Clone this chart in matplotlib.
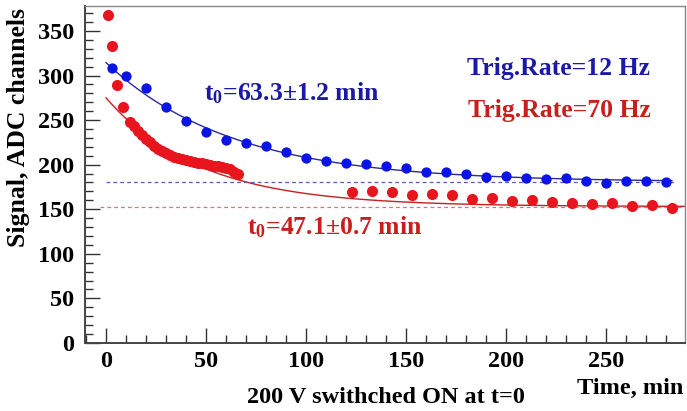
import numpy as np
import matplotlib.pyplot as plt
from matplotlib.ticker import MultipleLocator

plt.rcParams['font.family'] = ['Liberation Serif', 'DejaVu Serif']
plt.rcParams['font.weight'] = 'bold'
plt.rcParams['mathtext.fontset'] = 'custom'
plt.rcParams['mathtext.rm'] = 'Liberation Serif:bold'
plt.rcParams['mathtext.default'] = 'rm'

# Trig.Rate=12 Hz
t_blue = [3, 10, 20, 30, 40, 50, 60, 70, 80, 90, 100, 110, 120, 130, 140,
          150, 160, 170, 180, 190, 200, 210, 220, 230, 240, 250, 260, 270, 280]
s_blue = [308.6, 299.5, 286, 264.6, 249.2, 236.4, 227.7, 224.4, 221, 214, 208,
          204.4, 201.5, 201, 198.8, 195.8, 191.3, 191.3, 189.4, 186, 187.5,
          185.2, 183.8, 184.6, 181.5, 178.9, 181.5, 181.9, 180]

# Trig.Rate=70 Hz
t_red = [1, 3, 5.7, 8.5, 12, 14, 16, 18, 20, 22, 24, 26, 28, 30, 32, 34, 36,
         38, 40, 42, 44, 46, 48, 50, 52, 54, 56, 58, 60, 62, 64, 66,
         123, 133, 143, 153, 163, 173, 183, 193, 203, 213, 223, 233, 243,
         253, 263, 273, 283]
s_red = [368, 333, 289, 265, 248, 243, 238, 233, 229, 225, 221, 218, 215,
         213, 211, 209, 207, 206, 205, 204, 203, 202, 202, 201, 200, 199, 198,
         197, 196, 195, 192, 190,
         169.5, 170.6, 168.8, 165.5, 166.9, 165.7, 162, 162.5, 159.5, 160.4,
         158.1, 157.4, 155.6, 157.4, 153.6, 154.8, 151.8]

# fit parameters: A + B*exp(-t/t0)
fit_blue = (180.5, 134, 63.3)
fit_red = (153, 122, 47.1)

fig = plt.figure(figsize=(6.87, 4.11), dpi=100)
ax = fig.add_axes([0.1237, 0.1655, 0.8733, 0.82])

tb = np.linspace(0, 283, 300)
tr = np.linspace(0, 290, 300)
ax.plot(tb, fit_blue[0] + fit_blue[1]*np.exp(-tb/fit_blue[2]), color='#2a2a9a', lw=1)
ax.plot(tr, fit_red[0] + fit_red[1]*np.exp(-tr/fit_red[2]), color='#c81e1e', lw=1)
ax.plot([0, 285], [fit_blue[0]]*2, color='#5a5ab0', lw=0.9, dashes=(3, 2.5))
ax.plot([-3, 290], [fit_red[0]]*2, color='#e07070', lw=0.9, dashes=(3, 2.5))

ax.plot(t_blue, s_blue, 'o', color='#0a14e6', ms=7.4, mec='none')
ax.plot(t_red, s_red, 'o', color='#e8141e', ms=8, mec='none')

ax.text(49, 272, 't$_0$=63.3±1.2 min', color='#1a1aa6', fontsize=18.5, fontweight='bold')
ax.text(70.3, 121.8, 't$_0$=47.1±0.7 min', color='#c81e1e', fontsize=18.5, fontweight='bold')
ax.text(180.3, 301, 'Trig.Rate=12 Hz', color='#1a1aa6', fontsize=18.5, fontweight='bold')
ax.text(180.8, 253.3, 'Trig.Rate=70 Hz', color='#c81e1e', fontsize=18.5, fontweight='bold')

ax.set_xlim(-10.5, 289.5)
ax.set_ylim(0, 378)
ax.xaxis.set_major_locator(MultipleLocator(50))
ax.xaxis.set_minor_locator(MultipleLocator(10))
ax.yaxis.set_major_locator(MultipleLocator(50))
ax.yaxis.set_minor_locator(MultipleLocator(10))
ax.tick_params(which='both', direction='in', colors='#333333', labelcolor='black',
               labelsize=17.5, width=1)
ax.tick_params(which='major', length=11)
ax.tick_params(which='minor', length=5.5)
ax.tick_params(axis='y', pad=8)
ax.tick_params(axis='x', pad=6)
for lab in ax.get_xticklabels() + ax.get_yticklabels():
    lab.set_fontweight('bold')

for s in ['left', 'bottom']:
    ax.spines[s].set_color('#444444')
    ax.spines[s].set_linewidth(1.4)
for s in ['top', 'right']:
    ax.spines[s].set_color('#888888')
    ax.spines[s].set_linewidth(1)

fig.text(0.027, 0.98, 'Signal, ADC channels', rotation=90, ha='center', va='top',
         fontsize=18.5, fontweight='bold')
fig.text(0.994, 0.056, 'Time, min', ha='right', va='center', fontsize=17.5, fontweight='bold')
fig.text(0.562, 0.032, '200 V swithched ON at t=0', ha='center', va='center',
         fontsize=17.5, fontweight='bold')

fig.savefig('out.png', dpi=100)
